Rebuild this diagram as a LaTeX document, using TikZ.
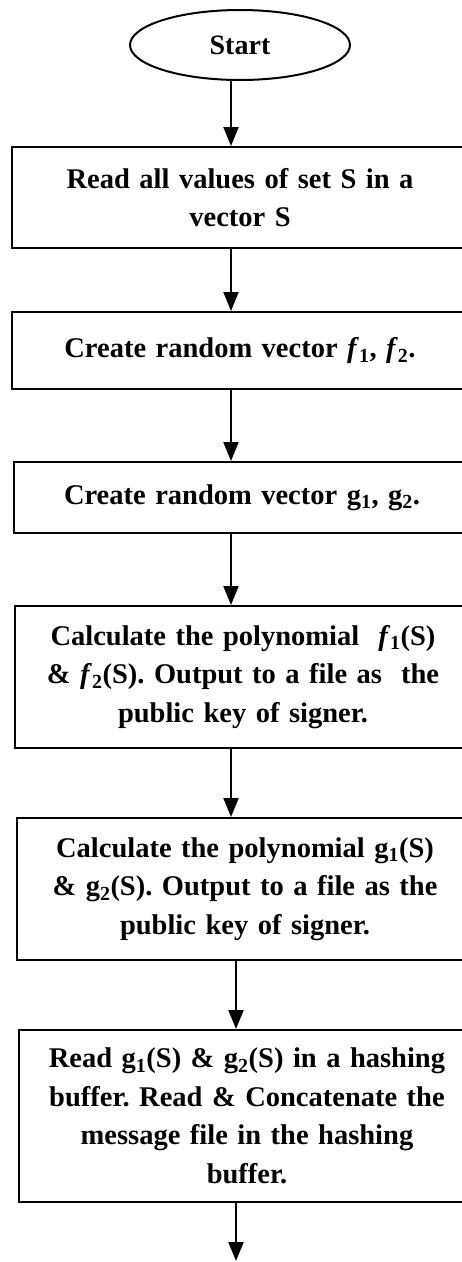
\documentclass[tikz,border=0pt]{standalone}
\usepackage{fontspec}
\setmainfont{Liberation Serif}
\usetikzlibrary{arrows.meta,shapes.geometric}

\tikzset{
  stepbox/.style={draw,line width=2pt,rectangle,inner sep=0pt,minimum width=456pt,
    text width=446pt,align=center,font=\fontsize{28.5}{38.5}\selectfont\bfseries\frenchspacing},
  flow/.style={line width=2pt,-{Triangle[length=19pt,width=15pt]}}
}
\newcommand{\fsub}[1]{\textit{f}\textsubscript{#1}}
\newcommand{\gsub}[1]{g\textsubscript{#1}}

\begin{document}
\begin{tikzpicture}[x=1pt,y=-1pt]
\useasboundingbox (0,0) rectangle (462,1262);
\node[draw,ellipse,line width=2pt,minimum width=220pt,minimum height=70pt,inner sep=0pt,
  font=\fontsize{28}{30}\selectfont\bfseries] (start) at (240,45) {Start};
\node[stepbox,minimum height=101pt] (read) at (240,197.5) {Read all values of set S in a\\vector S};
\node[stepbox,minimum height=77pt] (randf) at (240,350.5) {Create random vector \fsub{1}, \fsub{2}.};
\node[stepbox,minimum height=71pt] (randg) at (242,497.5) {Create random vector \gsub{1}, \gsub{2}.};
\node[stepbox,minimum height=142pt] (polyf) at (243,677) {Calculate the polynomial \ \fsub{1}(S)\\\& \fsub{2}(S). Output to a file as \ the\\public key of signer.};
\node[stepbox,minimum height=142pt] (polyg) at (245,889) {Calculate the polynomial \gsub{1}(S)\\\& \gsub{2}(S). Output to a file as the\\public key of signer.};
\node[stepbox,minimum height=172pt] (hash) at (247,1116) {Read \gsub{1}(S) \& \gsub{2}(S) in a hashing\\buffer. Read \& Concatenate the\\message file in the hashing\\buffer.};
% arrows run a little left of the box centres
\coordinate (spine) at (231,0);
\coordinate (next) at (236,1261);
\draw[flow] (start.south -| spine) -- (read.north -| spine);
\draw[flow] (read.south -| spine) -- (randf.north -| spine);
\draw[flow] (randf.south -| spine) -- (randg.north -| spine);
\draw[flow] (randg.south -| spine) -- (polyf.north -| spine);
\draw[flow] (polyf.south -| spine) -- (polyg.north -| spine);
\draw[flow] (polyg.south -| next) -- (hash.north -| next);
\draw[flow] (hash.south -| next) -- (next);
\end{tikzpicture}
\end{document}
